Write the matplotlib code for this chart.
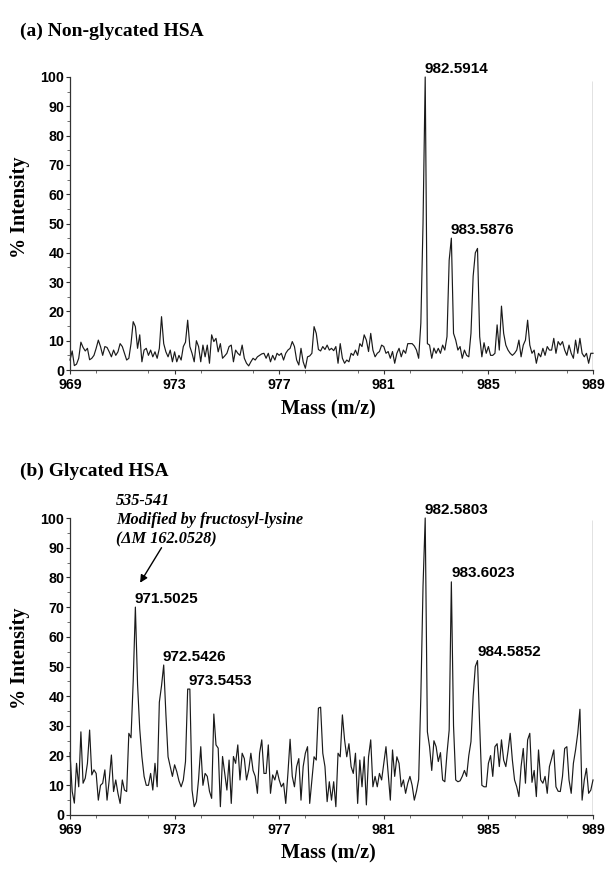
import numpy as np
import matplotlib

matplotlib.use("Agg")
import matplotlib.pyplot as plt  # noqa: E402
from matplotlib.ticker import MultipleLocator  # noqa: E402

# spectra are sampled 12 points per m/z unit starting at 969
MZ_START = 969.0
PTS_PER_UNIT = 12

# % intensity, one row per m/z unit (969 ... 988), last value at 989
top_intensity = [
    [3.4, 6.5, 1.5, 2, 4, 9.5, 7.7, 6.5, 7.4, 3.5, 4, 5],
    [7.4, 10.2, 8, 5, 8, 7.7, 6.2, 4.5, 6.8, 5, 6.2, 9],
    [8, 5.7, 3.4, 4, 9, 16.5, 14.8, 7.4, 12, 2.8, 6.8, 7.4],
    [5, 6.8, 4.5, 6.2, 4, 7.4, 18.2, 9, 6.2, 4.5, 6.8, 2.8],
    [6.2, 2.8, 5, 3.4, 8, 9.5, 17, 8, 5.7, 2.8, 10, 8],
    [2.8, 8.5, 4.5, 8.5, 2.3, 12, 9.7, 10.8, 6.2, 9, 4, 4.8],
    [5.7, 8, 8.5, 2.8, 6.8, 5.7, 5, 8.5, 4, 2.3, 1.4, 2.8],
    [4, 3.4, 4.5, 5, 5.5, 5.7, 4, 5.7, 2.8, 5, 3.4, 5.7],
    [5, 5.7, 3.4, 5.7, 6.8, 7.4, 9.7, 8, 3.4, 1.7, 7.4, 2.8],
    [0.6, 4.5, 4.8, 5.7, 14.8, 12.5, 7, 6.5, 8, 7, 8.5, 6.8],
    [7.4, 6.6, 8, 2.3, 9, 4, 2.3, 3.4, 2.8, 5.7, 5, 6.8],
    [5, 9, 8, 12, 10.2, 6.3, 12.5, 6.8, 4.5, 5.7, 6.3, 8.5],
    [8, 5.7, 6.3, 4, 6.3, 2.3, 5.7, 7.4, 4.5, 6.8, 5.7, 9],
    [9, 9, 8.2, 6.8, 4, 16, 50, 100, 9, 8.5, 4, 7.5],
    [5.7, 7.4, 5.7, 8.5, 6.8, 11.4, 37.5, 45, 12.5, 10.2, 6.8, 8],
    [4, 6.8, 5, 4.5, 12.5, 32, 40, 41.5, 11.4, 4.5, 9.3, 5.7],
    [8, 5, 5, 5.7, 15.4, 6.8, 21.8, 12.5, 8.5, 6.8, 5.7, 5],
    [5.7, 6.8, 10.2, 4.5, 8.5, 10.2, 17, 8.5, 5.7, 6.8, 2.3, 5.7],
    [4.5, 7.4, 5, 8, 6.8, 6.8, 10.8, 5.7, 9.7, 8.5, 9.7, 6.8],
    [5, 8.5, 5.7, 4, 10.2, 5.7, 10.8, 5.7, 4.5, 5.7, 2.3, 5.7],
    [5.7],
]

bottom_intensity = [
    [21, 8, 4, 17.4, 9.5, 28, 10.7, 12.4, 17.4, 28.6, 13.5, 15.2],
    [14, 5, 10, 10.7, 15.2, 5, 11.8, 20.2, 7.9, 11.8, 7.3, 3.9],
    [11.8, 8.4, 7.9, 27.5, 26, 45, 70, 44, 29, 19.6, 13, 10],
    [10, 14, 8.4, 17.4, 9.5, 38, 43.5, 50.5, 34, 19.6, 16.3, 13],
    [16.9, 14.6, 11.5, 9.5, 11.8, 18, 42.4, 42.4, 8.4, 2.8, 4.5, 12],
    [23, 10, 14, 13, 8, 5.6, 34, 23.6, 22.5, 2.8, 19.7, 14],
    [8.4, 18.5, 3.9, 19.7, 17.4, 23.6, 11.8, 20.8, 19, 11.8, 15.2, 20.8],
    [15, 13, 7.3, 20.8, 25.3, 14, 14, 23.6, 7.3, 13.5, 11.8, 15],
    [11.8, 9.5, 10.7, 3.9, 14, 25.5, 13, 9.5, 16.3, 19, 5, 16.3],
    [20.8, 23, 3.9, 11.8, 19.6, 18.5, 36, 36.3, 20.8, 16.3, 4.5, 11.2],
    [5, 11.2, 2.8, 20.8, 19.6, 33.7, 25.3, 19.6, 24, 16.3, 14, 20.8],
    [3.9, 18.5, 9.5, 19.6, 3.4, 19.6, 25.3, 9.5, 13, 9.5, 14, 11.8],
    [17.4, 23, 14, 5, 21.9, 13, 19.6, 17.4, 9.5, 11.8, 7.3, 10.7],
    [13, 10, 5, 8, 12, 40, 77, 100, 28, 23, 15, 25],
    [23, 18, 21, 11.8, 11.2, 20.8, 28.6, 78.5, 30, 11.8, 11.2, 11.5],
    [13, 15, 13, 20, 24.7, 40, 50, 52, 30, 10, 9.5, 9.5],
    [17.4, 20, 13, 23, 24, 16.3, 25.3, 18.5, 16.3, 21.5, 27.5, 18.5],
    [11.8, 9.5, 6.2, 16.3, 22.4, 10.7, 25.3, 27.5, 11, 15, 6.2, 21.9],
    [11.8, 10.7, 13, 7.3, 16.3, 19, 21.9, 9.5, 8, 7.9, 13, 22.4],
    [23, 11.8, 7.3, 17.4, 21.9, 27.5, 35.6, 5, 11.8, 15.7, 7.3, 8.4],
    [11.8],
]

# vertical trace at the right end (m/z 989)
top_edge_height = 98.7
bottom_edge_height = 99.3

top_peaks = [982.5914, 983.5876]
top_peak_heights = [100, 45]
bottom_peaks = [971.5025, 972.5426, 973.5453, 982.5803, 983.6023, 984.5852]
bottom_peak_heights = [70, 50.5, 42.4, 100, 78.5, 52]

x_ticks = [969, 973, 977, 981, 985, 989]

SANS = "Liberation Sans"
SERIF = "Liberation Serif"
LINE = "#1a1a1a"


def flatten(rows):
    y = np.array([v for row in rows for v in row], dtype=float)
    x = MZ_START + np.arange(len(y)) / PTS_PER_UNIT
    return x, y


def draw_panel(ax, rows, edge_height, peaks, heights):
    x, y = flatten(rows)
    ax.plot(x, y, color=LINE, lw=0.85, clip_on=False)
    ax.vlines(x[-1], 0, edge_height, color=LINE, lw=0.9)
    ax.set_xlim(969, 989)
    ax.set_ylim(0, 100)
    for s in ("top", "right"):
        ax.spines[s].set_visible(False)
    for s in ("left", "bottom"):
        ax.spines[s].set_color("#333333")
        ax.spines[s].set_linewidth(0.9)
    ax.set_xticks(x_ticks)
    ax.xaxis.set_minor_locator(MultipleLocator(2))
    ax.yaxis.set_major_locator(MultipleLocator(10))
    ax.yaxis.set_minor_locator(MultipleLocator(5))
    ax.tick_params(which="major", length=3, width=0.8, color="#333333")
    ax.tick_params(axis="y", which="major", pad=1)
    ax.tick_params(axis="x", which="major", pad=2.5)
    ax.tick_params(which="minor", length=2, width=0.6, color="#555555")
    for lab in ax.get_xticklabels() + ax.get_yticklabels():
        lab.set_fontfamily(SANS)
        lab.set_fontweight("bold")
        lab.set_fontsize(10.3)
    for m, h in zip(peaks, heights):
        ax.text(m - 0.02, h + 1.5, f"{m:.4f}", ha="left", va="baseline",
                fontfamily=SANS, fontweight="bold", fontsize=11)


fig = plt.figure(figsize=(6.15, 8.69), dpi=100)
W, H = 615, 869

ax_a = fig.add_axes([70 / W, 1 - 370 / H, 523 / W, 293 / H])
ax_b = fig.add_axes([70 / W, 1 - 815 / H, 523 / W, 297 / H])

draw_panel(ax_a, top_intensity, top_edge_height, top_peaks, top_peak_heights)
draw_panel(ax_b, bottom_intensity, bottom_edge_height, bottom_peaks, bottom_peak_heights)

serif_bold = dict(fontfamily=SERIF, fontweight="bold")
fig.text(20 / W, 1 - 36 / H, "(a) Non-glycated HSA", fontsize=14, **serif_bold)
fig.text(20 / W, 1 - 476 / H, "(b) Glycated HSA", fontsize=14, **serif_bold)

for yc in (207, 658):
    fig.text(20 / W, 1 - yc / H, "% Intensity", rotation=90, ha="center",
             va="center", fontsize=14.5, **serif_bold)
for yc in (409, 853):
    fig.text(328 / W, 1 - yc / H, "Mass (m/z)", ha="center", va="center",
             fontsize=14.5, **serif_bold)

# annotation for the modified peptide
note = dict(fontfamily=SERIF, fontweight="bold", fontstyle="italic", fontsize=11.7)
ax_b.text(970.76, 104.5, "535-541", ha="left", va="baseline", clip_on=False, **note)
ax_b.text(970.76, 98.0, "Modified by fructosyl-lysine", ha="left", va="baseline",
          clip_on=False, **note)
ax_b.text(970.76, 91.3, "(ΔM 162.0528)", ha="left", va="baseline", clip_on=False, **note)
ax_b.annotate("", xy=(971.68, 78.2), xytext=(972.5, 90.0),
              arrowprops=dict(arrowstyle="-|>", color="black", lw=1.0,
                              mutation_scale=11, shrinkA=0, shrinkB=0))

fig.savefig("out.png", dpi=100)
plt.close(fig)
